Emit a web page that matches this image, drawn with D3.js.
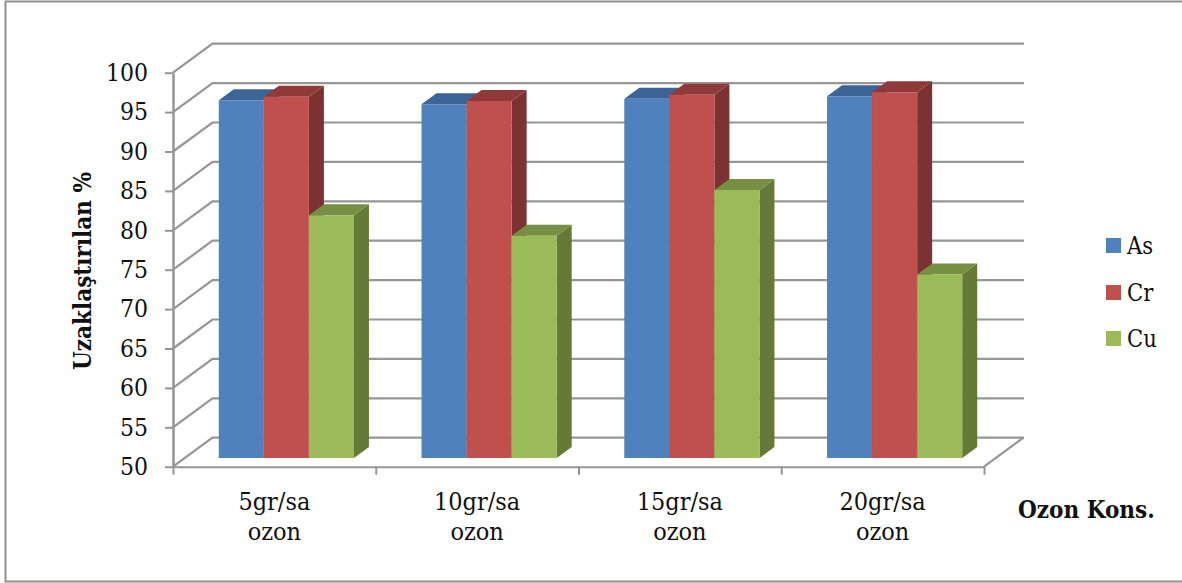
<!DOCTYPE html>
<html>
<head>
<meta charset="utf-8">
<script src="https://cdn.jsdelivr.net/npm/d3@7"></script>
<style>
  html, body { margin: 0; padding: 0; background: #fff; overflow: hidden; }
  svg { display: block; }
  text { font-family: "DejaVu Serif Condensed", "DejaVu Serif", serif; font-stretch: condensed; fill: #111; }
</style>
</head>
<body>
<svg id="chart" width="1182" height="583"></svg>
<script>
// Removal percentage per ozone dose and metal
const categories = [["5gr/sa", "ozon"], ["10gr/sa", "ozon"], ["15gr/sa", "ozon"], ["20gr/sa", "ozon"]];
const seriesNames = ["As", "Cr", "Cu"];
const asValues = [95.4, 94.9, 95.6, 95.9];
const crValues = [95.85, 95.3, 96.1, 96.4];
const cuValues = [80.8, 78.2, 84.0, 73.3];
const yTickValues = [50, 55, 60, 65, 70, 75, 80, 85, 90, 95, 100];
const faceColors = ["#4f81bd", "#c0504d", "#9bbb59"];
const topColors = ["#3c6494", "#8f3a38", "#778f42"];
const sideColors = ["#335680", "#7b3230", "#667a37"];

const seriesValues = [asValues, crValues, cuValues];
const svg = d3.select("#chart");
const gridColor = "#969696";
const fontStack = '"DejaVu Serif Condensed", "DejaVu Serif", serif';

// Front plane of the plot box and the offset of its back wall
const x0 = 173, x1 = 984, yBottom = 466.7, yTop = 72.7;
const wallDx = 39.5, wallDy = 29;
// Bars sit partway into the box and have their own depth
const barDx = 12, barDy = 8.7, depthDx = 15, depthDy = 11;

const y = d3.scaleLinear().domain([50, 100]).range([yBottom, yTop]);
const xBand = d3.scaleBand().domain(d3.range(categories.length)).range([x0, x1])
  .paddingInner(1 / 3).paddingOuter(1 / 6);
const xSeries = d3.scaleBand().domain(d3.range(seriesNames.length)).range([0, xBand.bandwidth()]);
const xEdges = d3.scaleLinear().domain([0, categories.length]).range([x0, x1]);

// Outer frame: top, left and bottom edges only
svg.append("path")
  .attr("d", "M1182,1.5H5.5V581.5H1182")
  .attr("fill", "none").attr("stroke", "#8f8f8f").attr("stroke-width", 2);

// Floor and back-wall gridlines
const grid = svg.append("g").attr("fill", "none").attr("stroke", gridColor).attr("stroke-width", 2.2);
grid.selectAll("path").data(yTickValues).join("path")
  .attr("d", d => `M${x0},${y(d)}L${x0 + wallDx},${y(d) - wallDy}H${x1 + wallDx + 0.5}`);
grid.append("path")
  .attr("d", `M${x1},${yBottom}L${x1 + wallDx},${yBottom - wallDy}`);

// Value axis
const yAxis = svg.append("g").attr("transform", `translate(${x0},0)`)
  .call(d3.axisLeft(y).tickValues(yTickValues).tickSize(8).tickPadding(17).tickSizeOuter(0));
yAxis.select(".domain").attr("stroke", gridColor).attr("stroke-width", 2.5);
yAxis.selectAll(".tick line").attr("stroke", gridColor).attr("stroke-width", 2);
yAxis.selectAll(".tick text").style("font-family", fontStack)
  .style("font-size", "24.5px").attr("fill", "#111");

// Category axis with ticks between groups
const xAxis = svg.append("g").attr("transform", `translate(0,${yBottom})`)
  .call(d3.axisBottom(xEdges).ticks(categories.length).tickSize(8).tickFormat("").tickSizeOuter(0));
xAxis.select(".domain").attr("stroke", gridColor).attr("stroke-width", 2);
xAxis.selectAll(".tick line").attr("stroke", gridColor).attr("stroke-width", 2);

// Bars: one group per dose; later series paint over earlier ones
const poly = pts => "M" + pts.map(p => p.join(",")).join("L") + "Z";
categories.forEach((_, c) => {
  const g = svg.append("g");
  seriesNames.forEach((_, s) => {
    const left = xBand(c) + xSeries(s) + barDx;
    const right = left + xSeries.bandwidth();
    const top = y(seriesValues[s][c]) - barDy;
    const base = yBottom - barDy;
    g.append("path").attr("fill", sideColors[s]).attr("d", poly([
      [right, top], [right + depthDx, top - depthDy], [right + depthDx, base - depthDy], [right, base]]));
    g.append("path").attr("fill", topColors[s]).attr("d", poly([
      [left, top], [left + depthDx, top - depthDy], [right + depthDx, top - depthDy], [right, top]]));
    g.append("path").attr("fill", faceColors[s]).attr("d", poly([
      [left, top], [right, top], [right, base], [left, base]]));
  });
});

// Category labels on two lines
const labels = svg.append("g").attr("text-anchor", "middle").style("font-size", "25px");
categories.forEach((lines, c) => {
  lines.forEach((line, i) => {
    labels.append("text")
      .attr("x", xBand(c) + xBand.bandwidth() / 2)
      .attr("y", 510 + i * 30)
      .text(line);
  });
});

// Axis titles
svg.append("text")
  .attr("transform", "translate(91,271) rotate(-90)")
  .attr("text-anchor", "middle")
  .style("font-size", "24px").style("font-weight", "bold")
  .text("Uzaklaştırılan %");
svg.append("text")
  .attr("x", 1018).attr("y", 518)
  .style("font-size", "24px").style("font-weight", "bold")
  .text("Ozon Kons.");

// Legend
const legendY = [238, 285, 331];
const legend = svg.append("g");
seriesNames.forEach((name, s) => {
  legend.append("rect").attr("x", 1106).attr("y", legendY[s])
    .attr("width", 15).attr("height", 15).attr("fill", faceColors[s]);
  legend.append("text").attr("x", 1127).attr("y", legendY[s] + 16)
    .style("font-size", "23.5px").text(name);
});
</script>
</body>
</html>
